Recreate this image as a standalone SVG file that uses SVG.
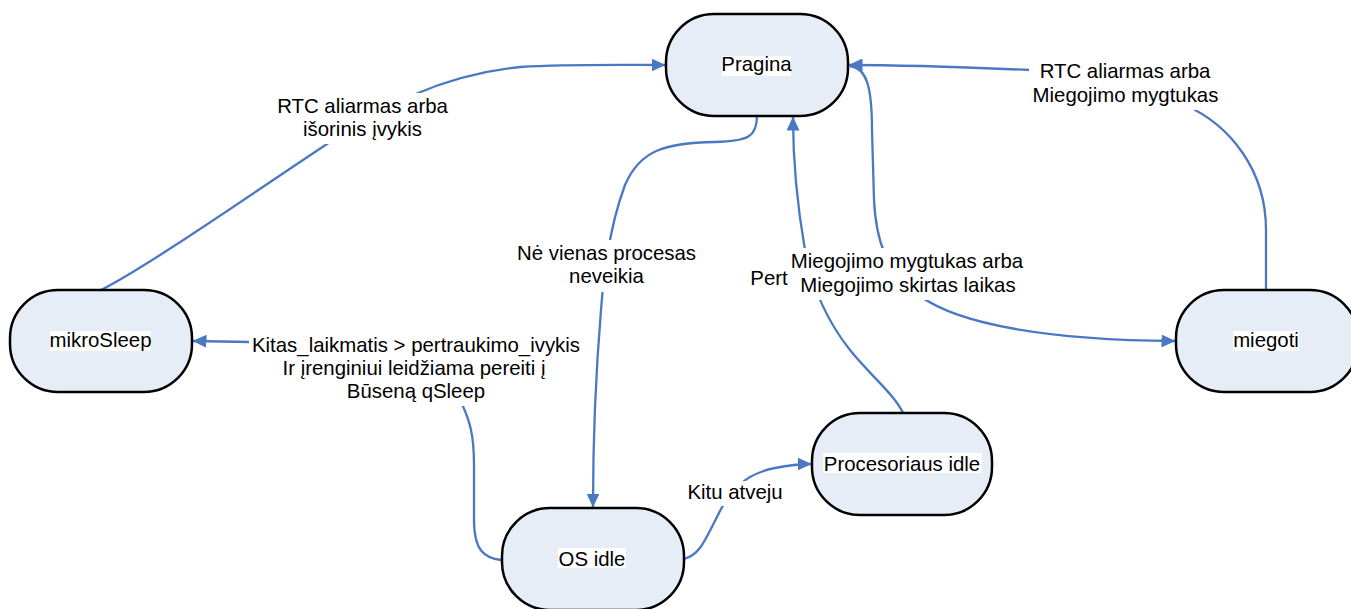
<svg xmlns="http://www.w3.org/2000/svg" width="1351" height="609" viewBox="0 0 1351 609">
<style>
.node{fill:#E7EDF7;stroke:#000;stroke-width:2.5}
.t{font-family:"Liberation Sans",Arial,sans-serif;font-size:20.4px;fill:#000;text-anchor:middle}
.bg{fill:#fff}
.c{fill:none;stroke:#4A78C2;stroke-width:2.3}
</style>
<defs>
<marker id="arr" viewBox="0 0 14 13" refX="13.5" refY="6.5" markerWidth="14" markerHeight="13" markerUnits="userSpaceOnUse" orient="auto">
<path d="M0,0 L14,6.5 L0,13 z" fill="#4A78C2"/>
</marker>
</defs>
<rect width="1351" height="609" fill="#fff"/>
<g id="connectors">
<path class="c" d="M101,290 C150,265 250,195 330,142 C380,108 440,75 520,67 C570,64 620,65 665,65" marker-end="url(#arr)"/>
<path class="c" d="M757,116 C757,137 748,141 715,142 C665,143 640,150 625,185 C610,225 604,270 601,310 C596,370 593,440 593,507" marker-end="url(#arr)"/>
<path class="c" d="M501,560 C484,558 474,550 474,520 L474,465 C474,435 470,420 460,400 C440,360 320,342 250,342 L193,341" marker-end="url(#arr)"/>
<path class="c" d="M684,559 C700,555 705,540 718,515 C730,490 745,474 775,468 C790,465 800,464 811,464" marker-end="url(#arr)"/>
<path class="c" d="M903,413 C895,395 870,375 850,350 C830,325 812,290 805,250 C798,210 793,170 793,117" marker-end="url(#arr)"/>
<path class="c" d="M850,66 C866,68 872,85 872,130 L874,200 C876,240 885,270 920,296 C960,325 1050,340 1175,341" marker-end="url(#arr)"/>
<path class="c" d="M1266,290 L1266,230 C1266,170 1230,125 1185,105 C1140,85 1080,72 1030,70 C960,67 900,65 849,65" marker-end="url(#arr)"/>
</g>
<g id="edge-labels">
<rect class="bg" x="275" y="93" width="175" height="51"/>
<text class="t" x="362.5" y="113">RTC aliarmas arba</text>
<text class="t" x="362.5" y="136">išorinis įvykis</text>
<rect class="bg" x="515" y="240" width="183" height="52"/>
<text class="t" x="606.5" y="260">Nė vienas procesas</text>
<text class="t" x="606.5" y="283">neveikia</text>
<rect class="bg" x="249" y="332" width="334" height="74"/>
<text class="t" x="416" y="352">Kitas_laikmatis &gt; pertraukimo_ivykis</text>
<text class="t" x="414" y="375">Ir įrenginiui leidžiama pereiti į</text>
<text class="t" x="416" y="398">Būseną qSleep</text>
<rect class="bg" x="686" y="481" width="99" height="25"/>
<text class="t" x="735" y="499">Kitu atveju</text>
<rect class="bg" x="749" y="264" width="50" height="28"/>
<text class="t" x="769" y="285">Pert</text>
<rect class="bg" x="789" y="248" width="237" height="52"/>
<text class="t" x="907" y="268">Miegojimo mygtukas arba</text>
<text class="t" x="908" y="291.5">Miegojimo skirtas laikas</text>
<rect class="bg" x="1029" y="58" width="192" height="52"/>
<text class="t" x="1125" y="78">RTC aliarmas arba</text>
<text class="t" x="1125.5" y="102">Miegojimo mygtukas</text>
</g>
<g id="node-pragina">
<rect class="node" x="666" y="14" width="182" height="102" rx="48" ry="48"/>
<rect class="bg" x="722" y="56" width="69" height="20"/>
<text class="t" x="756.5" y="71">Pragina</text>
</g>
<g id="node-mikrosleep">
<rect class="node" x="10" y="290" width="182" height="102" rx="48" ry="48"/>
<rect class="bg" x="50" y="331" width="101" height="20"/>
<text class="t" x="100.5" y="346.5">mikroSleep</text>
</g>
<g id="node-miegoti">
<rect class="node" x="1176" y="290" width="182" height="102" rx="48" ry="48"/>
<rect class="bg" x="1233" y="331" width="66" height="20"/>
<text class="t" x="1266" y="346.5">miegoti</text>
</g>
<g id="node-procesoriaus">
<rect class="node" x="812" y="413" width="180" height="102" rx="48" ry="48"/>
<rect class="bg" x="823" y="453" width="159" height="20"/>
<text class="t" x="902" y="471">Procesoriaus idle</text>
</g>
<g id="node-osidle">
<rect class="node" x="502" y="508" width="182" height="102" rx="48" ry="48"/>
<rect class="bg" x="558" y="548" width="68" height="20"/>
<text class="t" x="592" y="565.5">OS idle</text>
</g>
</svg>
